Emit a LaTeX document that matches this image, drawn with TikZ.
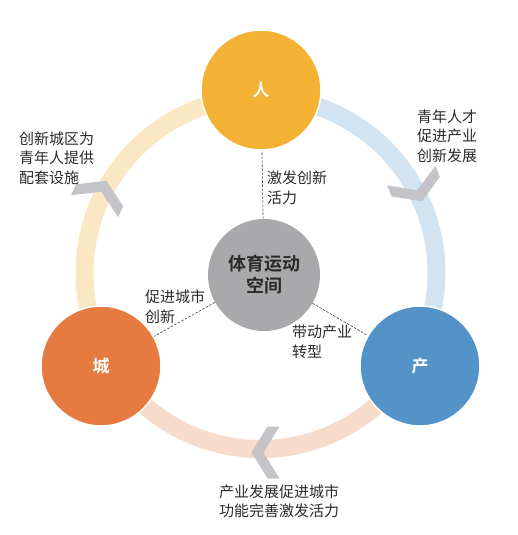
\documentclass[tikz,border=0pt]{standalone}
\usepackage{fontspec}
\usetikzlibrary{calc}
\setmainfont{Noto Sans CJK SC}[BoldFont={Noto Sans CJK SC Bold}]
\definecolor{ringY}{HTML}{FAE8C4}
\definecolor{ringB}{HTML}{D2E3F1}
\definecolor{ringP}{HTML}{F8DCCB}
\definecolor{cTop}{HTML}{F3B234}
\definecolor{cLeft}{HTML}{E67B41}
\definecolor{cRight}{HTML}{5393C8}
\definecolor{cMid}{HTML}{A9A9AC}
\definecolor{chev}{HTML}{C4C3C7}
\definecolor{txt}{HTML}{2A2A2A}
\begin{document}
\begin{tikzpicture}[x=1pt,y=-1pt,
  ring/.style={line width=18pt},
  bigc/.style={circle, minimum size=120pt, inner sep=0pt, draw=white, line width=1.5pt, text=white, font=\fontsize{17}{20}\selectfont\bfseries},
  midc/.style={circle, minimum size=112pt, inner sep=0pt, fill=cMid, text=txt, align=center, font=\fontsize{18}{22}\selectfont\bfseries},
  lbl/.style={text=txt, inner sep=0pt, font=\fontsize{15}{19.5}\selectfont},
  dline/.style={draw=txt!90, line width=0.6pt, dash pattern=on 2.5pt off 1.5pt},
  chevron/.style={fill=chev}
]
\useasboundingbox (0,0) rectangle (517,535);
\coordinate (C) at (260.5,273);
% ring
\draw[ring, ringY] ($(C)+(-90:176)$) arc[start angle=-90, end angle=-210, radius=176];
\draw[ring, ringB] ($(C)+(-90:176)$) arc[start angle=-90, end angle=30, radius=176];
\draw[ring, ringP] ($(C)+(-210:176)$) arc[start angle=-210, end angle=-330, radius=176];
% chevrons
\coordinate (K1) at (100.5,193.5);
\coordinate (K2) at (416.5,188.5);
\coordinate (K3) at (265.5,452.5);
\fill[chevron, shift={(K1)}, rotate=65] (14,0) -- (-2,26) -- (-14,26) -- (2,0) -- (-14,-26) -- (-2,-26) -- cycle;
\fill[chevron, shift={(K2)}, rotate=-68] (14,0) -- (-2,26) -- (-14,26) -- (2,0) -- (-14,-26) -- (-2,-26) -- cycle;
\fill[chevron, shift={(K3)}, rotate=180] (14,0) -- (-2,26) -- (-14,26) -- (2,0) -- (-14,-26) -- (-2,-26) -- cycle;
% circles
\node[bigc, fill=cTop] (ren) at (261,90) {人};
\node[bigc, fill=cLeft] (cheng) at (101,366) {城};
\node[bigc, fill=cRight] (chan) at (420,366) {产};
\node[midc] (mid) at (264,275) {体育运动\\空间};
% dashed connectors
\draw[dline] (mid) -- (ren);
\draw[dline] (mid) -- (cheng);
\draw[dline] (mid) -- (chan);
% labels
\node[lbl, align=left] (l1) at (56.5,158) {创新城区为\\青年人提供\\配套设施};
\node[lbl, align=left] (l2) at (447,136) {青年人才\\促进产业\\创新发展};
\node[lbl, align=left, anchor=west] (l3) at (267,188) {激发创新\\活力};
\node[lbl, align=left, anchor=west] (l4) at (145,306.5) {促进城市\\创新};
\node[lbl, align=left, anchor=west] (l5) at (292,342) {带动产业\\转型};
\node[lbl, align=center] (l6) at (279,501.5) {产业发展促进城市\\功能完善激发活力};
\end{tikzpicture}
\end{document}
